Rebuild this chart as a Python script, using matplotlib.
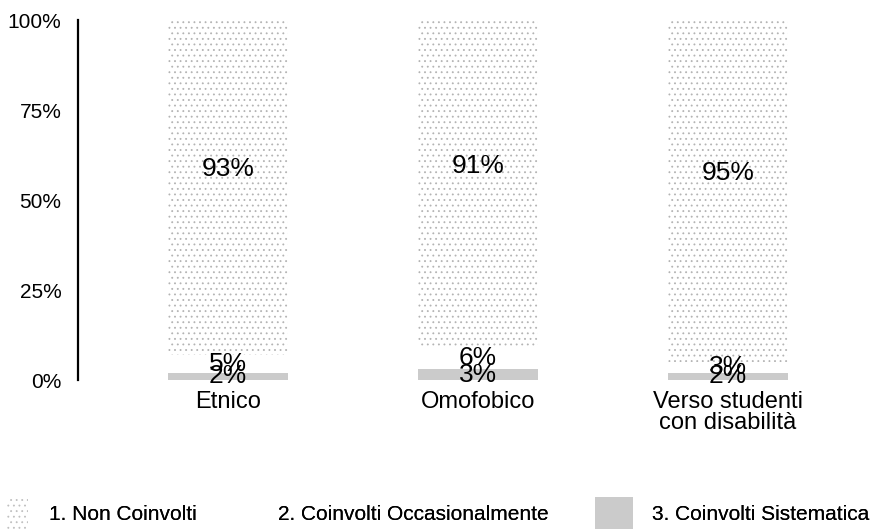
import matplotlib
matplotlib.use("Agg")
import matplotlib.pyplot as plt
from matplotlib.patches import Patch
import numpy as np

plt.rcParams["font.family"] = ["Liberation Sans", "DejaVu Sans"]
plt.rcParams["hatch.linewidth"] = 0.6

categories = ["Etnico", "Omofobico", "Verso studenti\ncon disabilità"]
series_names = ["1. Non Coinvolti", "2. Coinvolti Occasionalmente", "3. Coinvolti Sistematica"]
non_coinvolti = [93, 91, 95]
occasionali = [5, 6, 3]
sistematici = [2, 3, 2]
y_ticks = [0, 25, 50, 75, 100]


def main():
    fig = plt.figure(figsize=(8.92, 5.30), dpi=100)
    ax = fig.add_axes([78 / 892, 150 / 530, 800 / 892, 360 / 530])

    x = np.arange(len(categories))
    width = 0.48

    # stacked from the bottom: sistematici, occasionali, non coinvolti
    b3 = ax.bar(x, sistematici, width, color="#cbcbcb", edgecolor="#cbcbcb", linewidth=0)
    bottom2 = np.array(sistematici)
    b2 = ax.bar(x, occasionali, width, bottom=bottom2, color="white", linewidth=0)
    bottom1 = bottom2 + np.array(occasionali)
    b1 = ax.bar(x, non_coinvolti, width, bottom=bottom1, color="white",
                edgecolor="#b4b4b4", hatch="...", linewidth=0)

    for bars, vals, offset in [(b3, sistematici, 0), (b2, occasionali, 0), (b1, non_coinvolti, 13)]:
        for rect, v in zip(bars, vals):
            cy = rect.get_y() + rect.get_height() / 2
            ax.annotate(f"{v}%", (rect.get_x() + rect.get_width() / 2, cy),
                        xytext=(0, offset), textcoords="offset points",
                        ha="center", va="center", fontsize=19, color="black")

    ax.set_xlim(-0.6, 2.6)
    ax.set_ylim(0, 100)
    ax.set_yticks(y_ticks)
    ax.set_yticklabels([f"{t}%" for t in y_ticks], fontsize=15)
    ax.set_xticks(x)
    ax.set_xticklabels(categories, fontsize=17, linespacing=0.95, va="top")
    ax.tick_params(axis="both", length=0)
    ax.tick_params(axis="y", pad=12)
    ax.tick_params(axis="x", pad=8)

    for side in ["top", "right", "bottom"]:
        ax.spines[side].set_visible(False)
    ax.spines["left"].set_linewidth(1.6)
    ax.spines["left"].set_color("black")

    handles = [
        Patch(facecolor="white", edgecolor="#c0c0c0", hatch="...", linewidth=0),
        Patch(facecolor="white", edgecolor="none", linewidth=0),
        Patch(facecolor="#cbcbcb", edgecolor="none", linewidth=0),
    ]
    legend_x = [7, 236, 595]
    legend_len = [1.0, 1.0, 1.83]
    legend_pad = [1.0, 1.0, 0.9]
    for h, name, lx, hl, tp in zip(handles, series_names, legend_x, legend_len, legend_pad):
        leg = fig.legend([h], [name], loc="center left", bbox_to_anchor=(lx / 892, 17 / 530),
                         frameon=False, fontsize=15, handlelength=hl, handleheight=2.0,
                         handletextpad=tp, borderpad=0, borderaxespad=0)
        fig.add_artist(leg)

    fig.savefig("out.png", dpi=100)
    plt.close(fig)


if __name__ == "__main__":
    main()
